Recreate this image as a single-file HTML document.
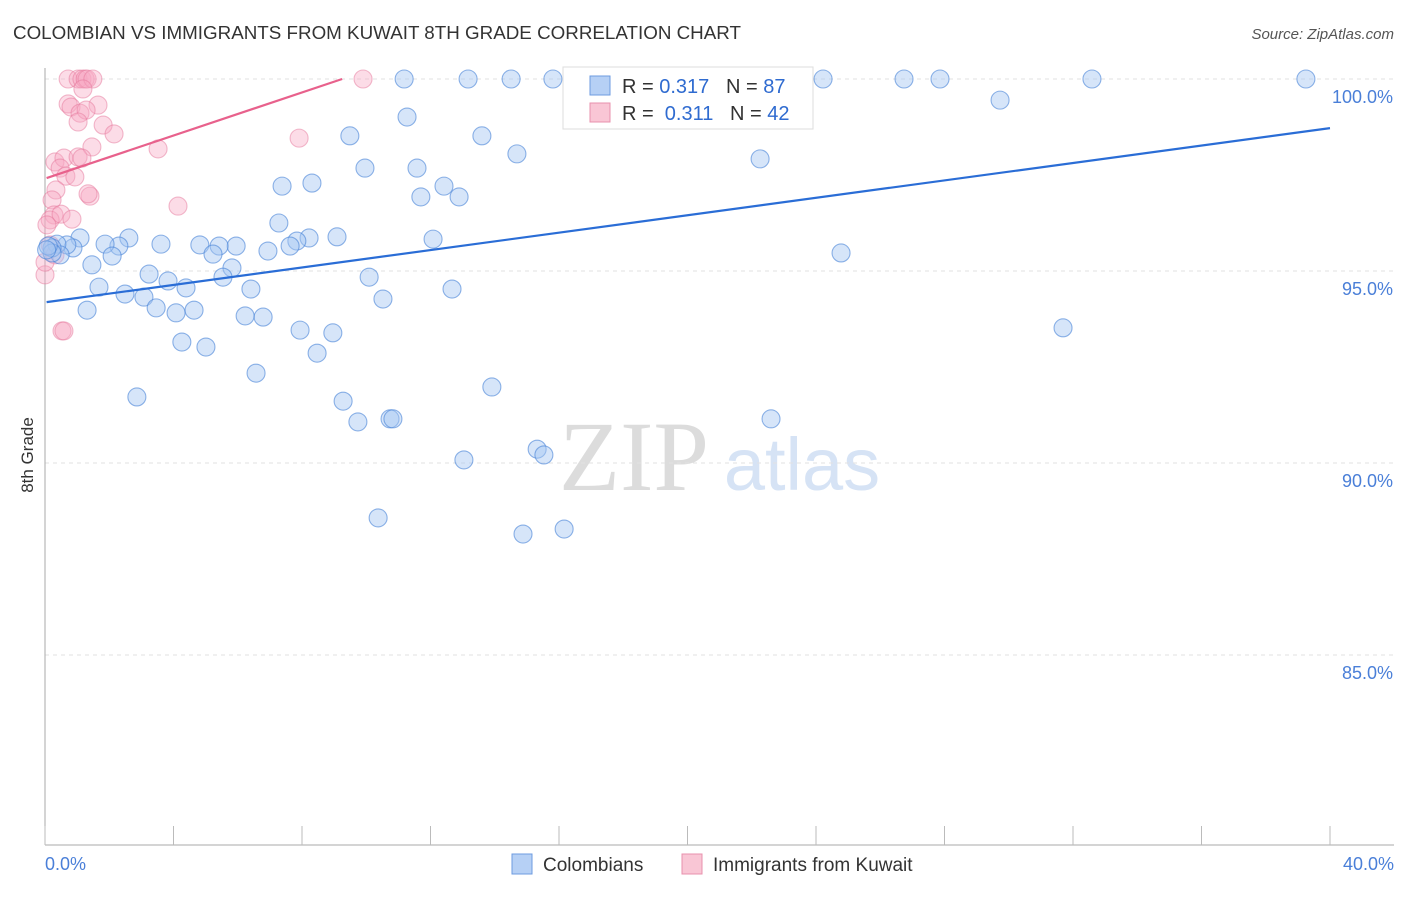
<!DOCTYPE html>
<html><head><meta charset="utf-8">
<style>
body{margin:0;background:#fff;font-family:"Liberation Sans",sans-serif;}
</style></head>
<body>
<svg id="chart" width="1406" height="892" viewBox="0 0 1406 892" font-family="Liberation Sans, sans-serif">
  <text x="13" y="39" font-size="18" fill="#333" textLength="728" lengthAdjust="spacingAndGlyphs">COLOMBIAN VS IMMIGRANTS FROM KUWAIT 8TH GRADE CORRELATION CHART</text>
  <text x="1394" y="39" font-size="15" fill="#555" text-anchor="end" font-style="italic">Source: ZipAtlas.com</text>
  <text transform="translate(33,455) rotate(-90)" font-size="17" fill="#333" text-anchor="middle">8th Grade</text>
  <g>
    <text x="634" y="490" font-size="100" fill="#dcdcdc" style="font-family:'Liberation Serif',serif" text-anchor="middle">ZIP</text>
    <text x="802" y="490" font-size="74" fill="#d6e3f5" text-anchor="middle">atlas</text>
  </g>
  <g id="grid"></g>
  <g id="axes"></g>
  <g id="marks"></g>
  <g>
    <rect x="563" y="67" width="250" height="62" fill="#fff" stroke="#ddd"/>
    <rect x="590" y="76" width="20" height="19" fill="#b6d0f5" stroke="#6d9be0"/>
    <text x="622" y="93" font-size="20" fill="#333" xml:space="preserve">R = <tspan fill="#2f6bd0">0.317</tspan>   N = <tspan fill="#2f6bd0">87</tspan></text>
    <rect x="590" y="103" width="20" height="19" fill="#f9c6d5" stroke="#e890ad"/>
    <text x="622" y="120" font-size="20" fill="#333" xml:space="preserve">R =  <tspan fill="#2f6bd0">0.311</tspan>   N = <tspan fill="#2f6bd0">42</tspan></text>
  </g>
  <g>
    <rect x="512" y="854" width="20" height="20" fill="#b6d0f5" stroke="#6d9be0"/>
    <text x="543" y="871" font-size="19" fill="#333">Colombians</text>
    <rect x="682" y="854" width="20" height="20" fill="#f9c6d5" stroke="#e890ad"/>
    <text x="713" y="871" font-size="19" fill="#333">Immigrants from Kuwait</text>
  </g>
</svg>
<script>
const xTicks=[0,4,8,12,16,20,24,28,32,36,40];
const yTicks=[100,95,90,85];
const yTickLabels=["100.0%","95.0%","90.0%","85.0%"];
const xEndLabels=["0.0%","40.0%"];
const blueX=[11.18,13.17,14.51,15.81,24.22,26.74,27.86,32.59,39.25,29.73,11.27,9.49,13.60,14.69,22.26,9.96,11.58,7.38,8.31,12.42,11.70,12.89,7.28,12.08,9.09,8.22,7.84,7.63,6.94,5.95,5.42,4.82,5.23,3.61,2.61,2.30,1.87,2.09,1.09,0.87,0.68,0.37,0.47,0.22,24.78,1.46,5.82,3.24,5.54,10.09,3.83,4.39,1.68,6.41,2.49,3.08,10.52,12.67,3.46,4.08,4.64,1.31,6.23,6.79,7.94,8.96,4.26,5.01,8.47,6.57,13.91,2.86,9.28,9.74,10.74,10.83,22.60,31.69,15.32,15.53,13.04,10.37,14.88,16.16,0.22,0.10,0.05];
const blueY=[100,100,100,100,100,100,100,100,100,99.45,99.01,98.52,98.52,98.05,97.92,97.68,97.68,97.21,97.29,97.21,96.93,96.93,96.25,95.83,95.89,95.86,95.78,95.65,95.52,95.65,95.65,95.68,95.44,95.70,95.86,95.65,95.70,95.39,95.86,95.60,95.68,95.70,95.42,95.60,95.47,95.16,95.08,94.92,94.84,94.84,94.74,94.56,94.58,94.53,94.40,94.32,94.27,94.53,94.04,93.91,93.98,93.98,93.83,93.80,93.46,93.39,93.15,93.02,92.86,92.34,91.98,91.72,91.61,91.07,91.15,91.15,91.15,93.52,90.36,90.21,90.08,88.57,88.15,88.28,95.47,95.65,95.55];
const pinkX=[0.72,1.03,1.15,1.25,1.31,1.49,9.90,1.18,0.72,0.81,1.65,1.09,1.28,1.03,1.81,2.15,1.46,3.52,7.91,0.31,0.59,1.03,1.15,0.47,0.65,0.93,0.34,1.40,1.34,4.14,0.22,0.28,0.16,0.50,0.84,0.06,0,0.53,0.59,0.16,0.31,0];
const pinkY=[100,100,100,100,100,100,100,99.74,99.35,99.27,99.32,99.11,99.19,98.88,98.80,98.57,98.23,98.18,98.46,97.84,97.94,97.97,97.94,97.68,97.47,97.45,97.11,96.95,97.01,96.69,96.85,96.46,96.33,96.48,96.35,96.20,94.90,93.44,93.44,95.68,95.42,95.23];
const trendBlue=[94.19,98.72];
const trendPink=[97.42,100,9.25];
const X0=45,X1=1330,Y100=79,PXPER=38.4;
const xs=v=>X0+(v/40)*(X1-X0);
const ys=v=>Y100+(100-v)*PXPER;
const NS="http://www.w3.org/2000/svg";
function mk(tag,attrs,parent){const e=document.createElementNS(NS,tag);for(const k in attrs)e.setAttribute(k,attrs[k]);parent.appendChild(e);return e;}
const grid=document.getElementById('grid'),axes=document.getElementById('axes'),marks=document.getElementById('marks');
yTicks.forEach((t,i)=>{
  const g=mk('line',{x1:X0,x2:1394,y1:ys(t),y2:ys(t),stroke:'#e2e2e2','stroke-dasharray':'4,4'},grid);
  
  
  const l=mk('text',{x:1393,y:ys(t)+24,'font-size':18,fill:'#4a7fd8','text-anchor':'end'},axes);
  l.textContent=yTickLabels[i];
  
  
});
const ya=mk('line',{x1:X0,x2:X0,y1:68,y2:845,stroke:'#aaa'},axes);


const xa=mk('line',{x1:X0,x2:1394,y1:845,y2:845,stroke:'#aaa'},axes);


xTicks.forEach(t=>{
  const tk=mk('line',{x1:xs(t),x2:xs(t),y1:826,y2:845,stroke:'#bbb'},axes);
  
  
});
const xl0=mk('text',{x:45,y:870,'font-size':18,fill:'#4a7fd8'},axes);xl0.textContent=xEndLabels[0];


const xl1=mk('text',{x:1394,y:870,'font-size':18,fill:'#4a7fd8','text-anchor':'end'},axes);xl1.textContent=xEndLabels[1];


pinkX.forEach((v,i)=>{
  const c=mk('circle',{cx:xs(v),cy:ys(pinkY[i]),r:9,fill:'rgba(248,168,194,0.4)',stroke:'rgba(230,120,155,0.5)','stroke-width':1.1},marks);
  
  
});
blueX.forEach((v,i)=>{
  const c=mk('circle',{cx:xs(v),cy:ys(blueY[i]),r:9,fill:'rgba(164,198,242,0.45)',stroke:'rgba(70,130,215,0.6)','stroke-width':1.1},marks);
  
  
});
const tb=mk('line',{x1:xs(0.05),y1:ys(trendBlue[0]),x2:xs(40),y2:ys(trendBlue[1]),stroke:'#2a6dd6','stroke-width':2.2},marks);


const tp=mk('line',{x1:xs(0.05),y1:ys(trendPink[0]),x2:xs(trendPink[2]),y2:ys(trendPink[1]),stroke:'#e8618c','stroke-width':2.2},marks);


</script>
</body></html>
